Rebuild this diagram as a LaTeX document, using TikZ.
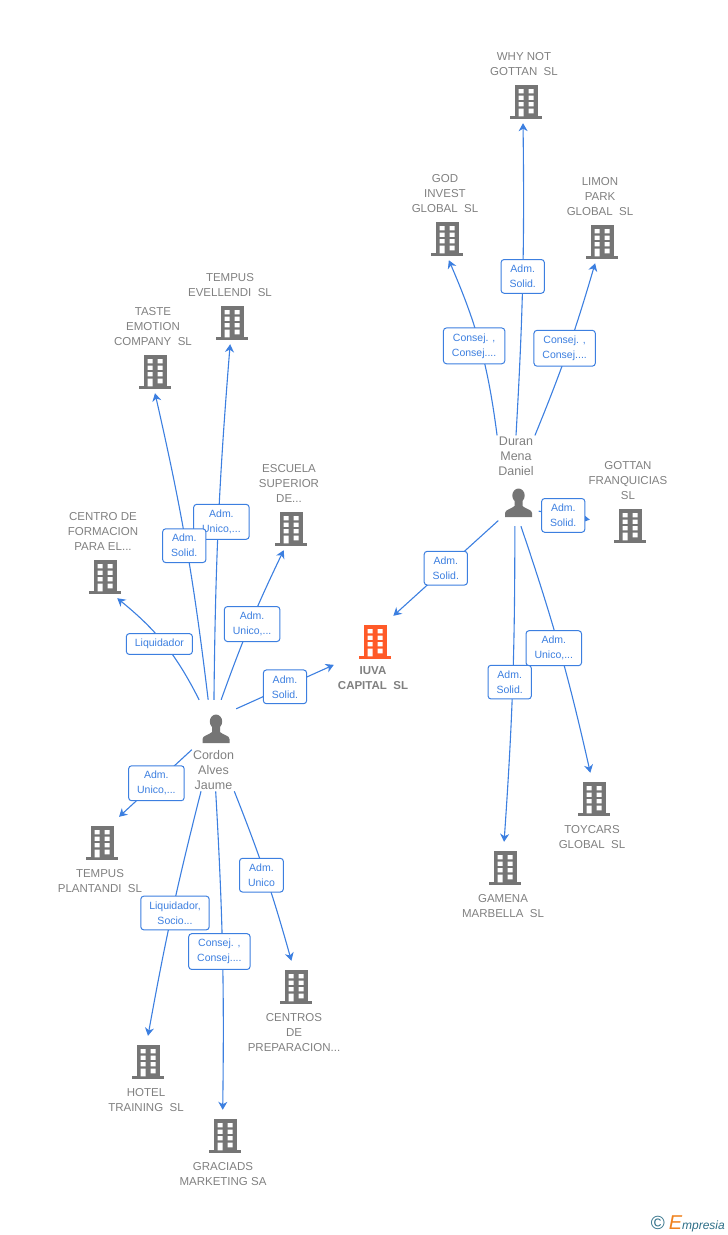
\documentclass[tikz,border=0pt]{standalone}
\usepackage{fontspec}
\setmainfont{Liberation Sans}
\usepackage{tikz}
\usetikzlibrary{positioning,arrows.meta}
\definecolor{linkblue}{RGB}{60, 127, 224}
\definecolor{icongray}{RGB}{117, 117, 117}
\definecolor{namegray}{RGB}{128, 128, 128}
\definecolor{iuvaorange}{RGB}{255, 90, 40}
\definecolor{markteal}{RGB}{45, 110, 135}
\definecolor{markorange}{RGB}{240, 130, 30}
\tikzset{
  link/.style={linkblue, line width=1.1pt, -{Stealth[length=8pt,width=9pt,inset=2.5pt]}},
  tag/.style={draw=linkblue, fill=white, line width=1pt, rounded corners=3pt, inner xsep=8.5pt, inner ysep=5.5pt, align=center, text=linkblue, font=\fontsize{10.5}{15}\selectfont},
  coname/.style={inner sep=0pt, align=center, text=namegray, font=\fontsize{11.5}{15}\selectfont},
  pername/.style={inner sep=1pt, align=center, text=namegray, font=\fontsize{12.5}{15}\selectfont},
  bldg/.style={inner sep=0pt, minimum width=40pt, minimum height=42pt, path picture={
    \begin{scope}[shift={(path picture bounding box.center)}]
      \fill[#1] (-11.5,-17) rectangle (11.5,15);
      \fill[#1] (-16,14.3) rectangle (16,17.3);
      \foreach \wy in {-13,-6.5,0} {
        \fill[white] (-7.3,\wy) rectangle ++(5,4.4) (2.7,\wy) rectangle ++(5,4.4);
      }
      \fill[white] (-7.3,6.7) rectangle ++(5,7.6) (2.7,6.7) rectangle ++(5,4.6);
    \end{scope}}},
  bldg/.default=icongray,
  person/.style={inner sep=0pt, minimum width=40pt, minimum height=46pt, path picture={
    \begin{scope}[shift={(path picture bounding box.center)}]
      \fill[icongray] (0,-7.5) ellipse (6.2 and 7);
      \fill[icongray] (-13.5,14) -- (-13.5,10) .. controls (-13.5,6.5) and (-7,6) .. (-4,3) -- (-4,-2) -- (4,-2) -- (4,3) .. controls (7,6) and (13.5,6.5) .. (13.5,10) -- (13.5,14) -- cycle;
    \end{scope}}}
}
\newcommand{\coup}[4]{%
  \node[bldg] (#1) at (#2, #3) {};
  \node[coname, above=26pt of #1.center, xshift=-2pt] (#1name) {#4};}
\newcommand{\codown}[4]{%
  \node[bldg, minimum height=52pt] (#1) at (#2, #3) {};
  \node[coname, below=26pt of #1.center, xshift=-2pt] (#1name) {#4};}
\newcommand{\linkto}[5]{\draw[link] (#1) to[bend left=#3] node[tag, #4] {#5} (#2);}
\begin{document}
\begin{tikzpicture}[x=1pt,y=-1pt]
\useasboundingbox (0,0) rectangle (728,1235);
% companies with the name above the icon
\coup{whynot}{526}{102}{WHY NOT\\GOTTAN~~SL}
\coup{god}{447}{239}{GOD\\INVEST\\GLOBAL~~SL}
\coup{limon}{602}{242}{LIMON\\PARK\\GLOBAL~~SL}
\coup{evellendi}{232}{323}{TEMPUS\\EVELLENDI~~SL}
\coup{taste}{155}{372}{TASTE\\EMOTION\\COMPANY~~SL}
\coup{escuela}{291}{529}{ESCUELA\\SUPERIOR\\DE...}
\coup{centro}{105}{577}{CENTRO DE\\FORMACION\\PARA EL...}
\node[bldg, minimum width=80pt] (gottan) at (630, 526) {};
\node[coname, above=26pt of gottan.center, xshift=-2pt] (gottanname) {GOTTAN\\FRANQUICIAS\\SL};
% companies with the name below the icon
\codown{plantandi}{102}{843}{TEMPUS\\PLANTANDI~~SL}
\codown{hotel}{148}{1062}{HOTEL\\TRAINING~~SL}
\codown{graciads}{225}{1136}{GRACIADS\\MARKETING SA}
\codown{centros}{296}{987}{CENTROS\\DE\\PREPARACION...}
\codown{gamena}{505}{868}{GAMENA\\MARBELLA~~SL}
\codown{toycars}{594}{799}{TOYCARS\\GLOBAL~~SL}
\node[bldg=iuvaorange, minimum width=82pt, minimum height=52pt] (iuva) at (375, 642) {};
\node[coname, below=24pt of iuva.center, xshift=-2pt, font=\fontsize{11.5}{15}\selectfont\bfseries] (iuvaname) {IUVA\\CAPITAL~~SL};
% the two people
\node[person, minimum height=58pt] (cordon) at (216, 729) {};
\node[pername] (cordonname) at (213.5, 770.5) {Cordon\\Alves\\Jaume};
\node[person] (duran) at (518.5, 503) {};
\node[pername] (duranname) at (516, 456) {Duran\\Mena\\Daniel};
% links of Cordon
\linkto{cordon.120}{centro.300}{-12}{pos=.5,xshift=-5pt}{Liquidador}
\linkto{cordon.94}{evellendi.265}{2}{pos=.5,xshift=3pt}{Adm.\\Unico,...}
\linkto{cordon.105}{taste.270}{-3}{pos=.5,xshift=-2pt}{Adm.\\Solid.}
\linkto{cordon.80}{escuela.251}{3}{pos=.5,xshift=2pt}{Adm.\\Unico,...}
\linkto{cordon.45}{iuva.209}{0}{pos=.5}{Adm.\\Solid.}
\linkto{cordonname.north west}{plantandi.57}{0}{pos=.5,xshift=1pt}{Adm.\\Unico,...}
\linkto{cordonname.239}{hotel.90}{-2}{pos=.5,xshift=3pt}{Liquidador,\\Socio...}
\linkto{cordonname.276}{graciads.95}{2}{pos=.49,xshift=-3pt,yshift=-4pt}{Consej. ,\\Consej....}
\linkto{cordonname.315}{centros.100}{3}{pos=.5,xshift=-4pt}{Adm.\\Unico}
% links of Duran
\linkto{duranname.north}{whynot.262}{-2}{pos=.5,yshift=3pt}{Adm.\\Solid.}
\linkto{duranname.north west}{god.275}{-8}{pos=.5,xshift=-6pt}{Consej. ,\\Consej....}
\linkto{duranname.north east}{limon.252}{-3}{pos=.5,xshift=-3pt,yshift=2pt}{Consej. ,\\Consej....}
\linkto{duran.338}{gottan.171}{0}{pos=.5,xshift=-1pt}{Adm.\\Solid.}
\linkto{duran.221}{iuva.55}{0}{pos=.5}{Adm.\\Solid.}
\linkto{duran.261}{gamena.92}{2}{pos=.5,xshift=-3pt,yshift=2pt}{Adm.\\Solid.}
\linkto{duran.276}{toycars.98}{3}{pos=.49,xshift=-5pt,yshift=-2pt}{Adm.\\Unico,...}
% corner mark
\node[anchor=east, inner sep=0pt, text=markteal, font=\fontsize{12}{12}\selectfont\itshape] (mark) at (725, 1224) {{\upshape\fontsize{19}{15}\selectfont ©}\hspace{4pt}{\color{markorange}\fontsize{20}{17}\selectfont E}mpresia};
\end{tikzpicture}
\end{document}
